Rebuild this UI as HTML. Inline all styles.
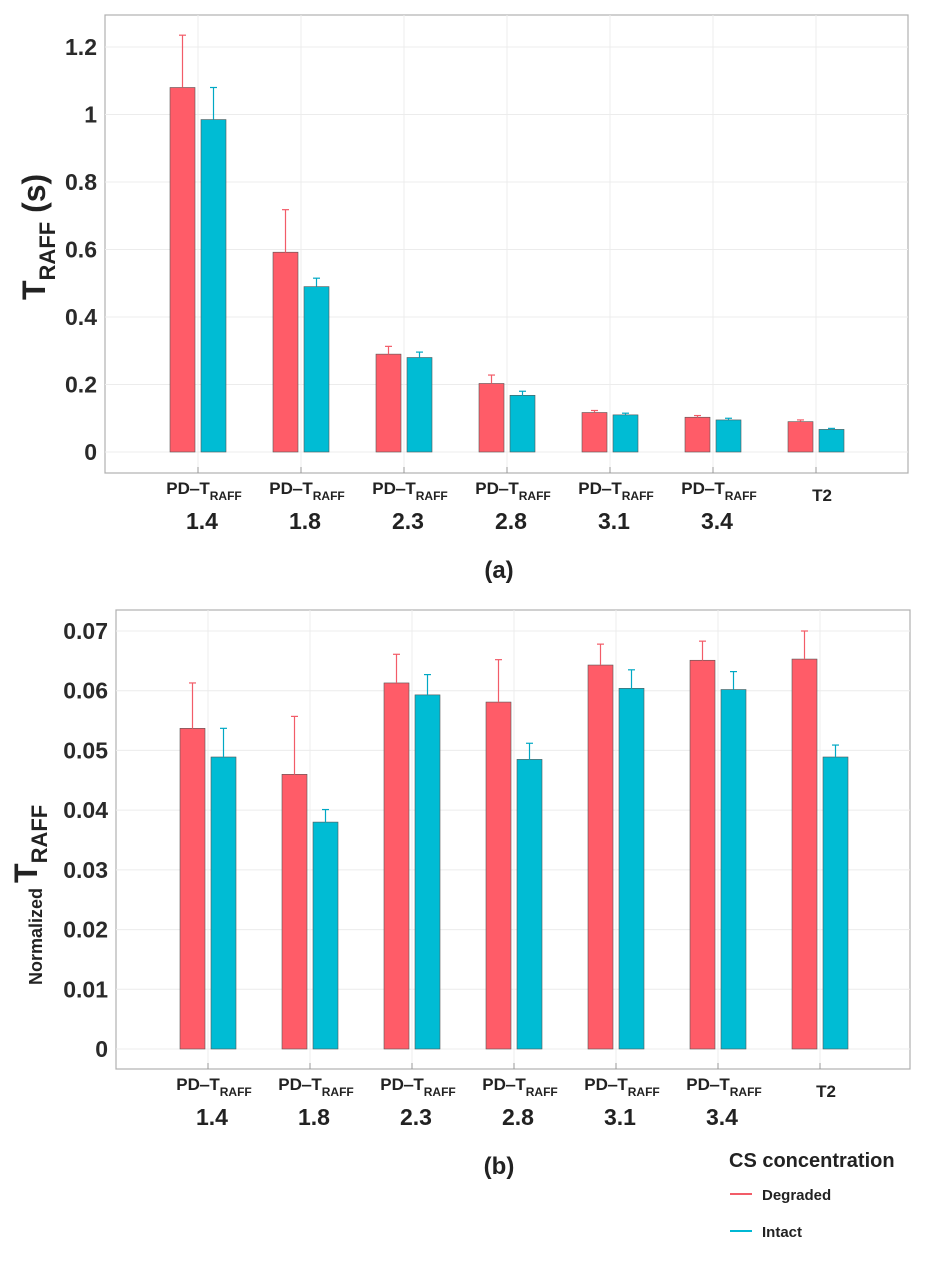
<!DOCTYPE html>
<html><head><meta charset="utf-8"><style>
body{margin:0;background:#fff;width:945px;height:1264px;overflow:hidden}
svg{font-family:"Liberation Sans",Arial,sans-serif;font-weight:bold}
</style></head><body>
<svg id="s" width="945" height="1264" xmlns="http://www.w3.org/2000/svg">
<text x="499" y="578" font-size="24" fill="#222" text-anchor="middle">(a)</text>
<text x="499" y="1174" font-size="24" fill="#222" text-anchor="middle">(b)</text>
<g>
<text x="729" y="1167" font-size="20" fill="#222">CS concentration</text>
<line x1="730" y1="1194" x2="752" y2="1194" stroke="#f25c68" stroke-width="2"/>
<text x="762" y="1200" font-size="15" fill="#222">Degraded</text>
<line x1="730" y1="1231" x2="752" y2="1231" stroke="#00b8d4" stroke-width="2"/>
<text x="762" y="1237" font-size="15" fill="#222">Intact</text>
</g>
</svg>
<script>
const categories=["1.4","1.8","2.3","2.8","3.1","3.4","T2"];
const aDegraded=[1.08,0.592,0.29,0.203,0.117,0.103,0.09];
const aDegradedErr=[0.155,0.126,0.023,0.025,0.006,0.005,0.005];
const aIntact=[0.985,0.49,0.28,0.168,0.11,0.095,0.067];
const aIntactErr=[0.095,0.025,0.016,0.012,0.005,0.005,0.003];
const aTicks=[0,0.2,0.4,0.6,0.8,1,1.2];
const aTickLabels=["0","0.2","0.4","0.6","0.8","1","1.2"];
const bDegraded=[0.0537,0.046,0.0613,0.0581,0.0643,0.0651,0.0653];
const bDegradedErr=[0.0076,0.0097,0.0048,0.0071,0.0035,0.0032,0.0047];
const bIntact=[0.0489,0.038,0.0593,0.0485,0.0604,0.0602,0.0489];
const bIntactErr=[0.0048,0.0021,0.0034,0.0027,0.0031,0.003,0.002];
const bTicks=[0,0.01,0.02,0.03,0.04,0.05,0.06,0.07];
const bTickLabels=["0","0.01","0.02","0.03","0.04","0.05","0.06","0.07"];

const NS="http://www.w3.org/2000/svg";
const svg=document.getElementById('s');
function mk(tag,attrs,parent){const e=document.createElementNS(NS,tag);for(const k in attrs)e.setAttribute(k,attrs[k]);(parent||svg).appendChild(e);return e;}

function panel(p){
  const g=mk('g',{});
  
  
  const y=v=>p.y0+(p.y1-p.y0)*(v-p.vmin)/(p.vmax-p.vmin);
  const x=i=>p.c0+i*p.step;
  mk('rect',{x:p.L,y:p.T,width:p.R-p.L,height:p.B-p.T,fill:'#fff',stroke:'#b0b0b0','stroke-width':1.2},g);
  p.ticks.forEach((t,i)=>{
    const gl=mk('line',{x1:p.L,x2:p.R,y1:y(t),y2:y(t),stroke:'#ececec'},g);
    
    
    const tx=mk('text',{x:p.L-8,y:y(t)+8,'font-size':23,'text-anchor':'end',fill:'#2a2a2a'},g);
    
    
    tx.textContent=p.tickLabels[i];
  });
  categories.forEach((c,i)=>{
    mk('line',{x1:x(i),x2:x(i),y1:p.T,y2:p.B,stroke:'#ececec'},g);
    mk('line',{x1:x(i),x2:x(i),y1:p.B-6,y2:p.B,stroke:'#999'},g);
  });
  const series=[[p.deg,p.degErr,'#ff5c68','#f25c68',-28],[p.int,p.intErr,'#00bcd4','#00a8c4',3]];
  series.forEach((s,si)=>{
    categories.forEach((c,i)=>{
      const v=s[0][i],top=y(v+s[1][i]);
      const bx=x(i)+s[4];
      const r=mk('rect',{x:bx,y:y(v),width:25,height:y(0)-y(v),fill:s[2],stroke:'#555','stroke-width':0.6},g);
      
      
      const cx=bx+12.5;
      const el=mk('line',{x1:cx,x2:cx,y1:y(v),y2:top,stroke:s[3],'stroke-width':1.2},g);
      
      
      mk('line',{x1:cx-3.5,x2:cx+3.5,y1:top,y2:top,stroke:s[3],'stroke-width':1.2},g);
    });
  });
  categories.forEach((c,i)=>{
    const lx=x(i)+6;
    if(c==='T2'){
      const t=mk('text',{x:lx,y:p.B+28,'font-size':17,'text-anchor':'middle',fill:'#222'},g);
      
      
      t.textContent='T2';
    } else {
      const t=mk('text',{x:lx,y:p.B+21,'font-size':17,'text-anchor':'middle',fill:'#222'},g);
      
      
      t.innerHTML='PD‒T<tspan font-size="12" dy="6">RAFF</tspan>';
      const n=mk('text',{x:x(i)+4,y:p.B+56,'font-size':23,'text-anchor':'middle',fill:'#222'},g);
      
      
      n.textContent=c;
    }
  });
}
panel({id:'a',L:105,R:908,T:15,B:473,y0:452,y1:47,vmin:0,vmax:1.2,c0:198,step:103,
  ticks:aTicks,tickLabels:aTickLabels,deg:aDegraded,degErr:aDegradedErr,int:aIntact,intErr:aIntactErr});
panel({id:'b',L:116,R:910,T:610,B:1069,y0:1049,y1:631,vmin:0,vmax:0.07,c0:208,step:102,
  ticks:bTicks,tickLabels:bTickLabels,deg:bDegraded,degErr:bDegradedErr,int:bIntact,intErr:bIntactErr});

const ya=mk('text',{transform:'translate(45,300) rotate(-90)','font-size':32,fill:'#222'});


ya.innerHTML='T<tspan font-size="22" dy="10">RAFF</tspan><tspan dy="-10"> (s)</tspan>';
const yb=mk('text',{transform:'translate(42,985) rotate(-90)','font-size':18,fill:'#222'});


yb.innerHTML='Normalized <tspan font-size="32" dy="-5">T</tspan><tspan font-size="22" dy="10">RAFF</tspan>';
</script>
</body></html>
